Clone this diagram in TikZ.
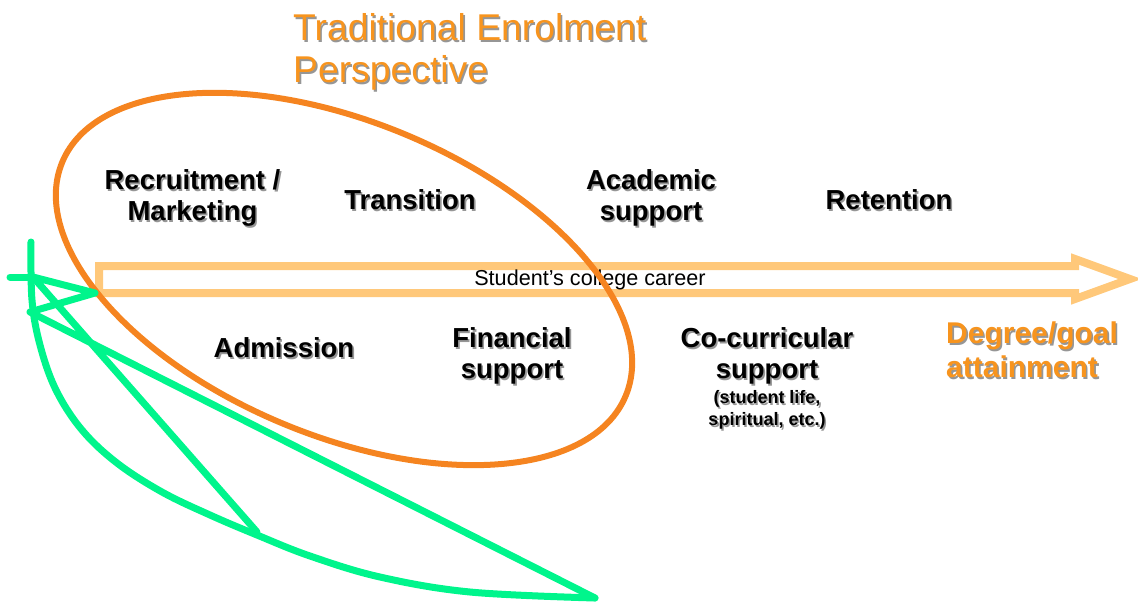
\documentclass[tikz,border=0pt]{standalone}
\usepackage{fontspec}
\setmainfont{Liberation Sans}
\usetikzlibrary{calc}

\definecolor{careerarrow}{RGB}{255,200,122}
\definecolor{ringorange}{RGB}{245,132,32}
\definecolor{titleorange}{RGB}{247,148,30}
\definecolor{scribble}{RGB}{0,245,140}
\definecolor{shadowgray}{RGB}{150,150,150}

% text with a soft drop shadow: name, position, style, text
\newcommand\shadednode[4]{%
  \node[#3, text=shadowgray, xshift=1.6pt, yshift=-1.6pt] at (#2) {#4};
  \node[#3] (#1) at (#2) {#4};}

\tikzset{
  stage/.style={font=\bfseries\fontsize{27.5}{31}\selectfont, align=center, inner sep=0pt, text=black},
  stagenote/.style={font=\bfseries\fontsize{18}{22.5}\selectfont, align=center, inner sep=0pt, text=black},
  goal/.style={font=\bfseries\fontsize{30}{34}\selectfont, align=left, anchor=west, inner sep=0pt, text=titleorange},
  heading/.style={font=\fontsize{37.3}{42}\selectfont, align=left, anchor=west, inner sep=0pt, text=titleorange},
  career/.style={draw=careerarrow, line width=8pt, miter limit=10},
  ring/.style={draw=ringorange, line width=6pt},
  pen/.style={draw=scribble, line width=7pt, line cap=round, line join=round},
}

\begin{document}
\begin{tikzpicture}[x=1pt, y=-1pt]
\useasboundingbox (0,0) rectangle (1138,603);

% hollow arrow of the college career
\coordinate (a1) at (99,266);
\coordinate (a2) at (1075,266);
\coordinate (a3) at (1075,259);
\coordinate (tip) at (1130,279);
\coordinate (a5) at (1075,299);
\coordinate (a6) at (1075,293);
\coordinate (a7) at (99,293);
\draw[career] (a1) -- (a2) -- (a3) -- (tip) -- (a5) -- (a6) -- (a7) -- cycle;
\node[font=\fontsize{21.6}{24}\selectfont, inner sep=0pt] (career) at (590,280) {Student’s college career};

% stages above and below the arrow
\shadednode{recruit}{192.5,198}{stage}{Recruitment /\\Marketing}
\shadednode{transition}{410,200}{stage}{Transition}
\shadednode{academic}{651,198}{stage}{Academic\\support}
\shadednode{retention}{889,200}{stage}{Retention}
\shadednode{admission}{284,348}{stage}{Admission}
\shadednode{financial}{512,356}{stage}{Financial\\support}
\shadednode{cocurr}{767,356}{stage}{Co-curricular\\support}
\shadednode{cocurrnote}{767,410}{stagenote}{(student life,\\spiritual, etc.)}
\shadednode{goal}{946,350}{goal}{Degree/goal\\attainment}

% title
\shadednode{title}{293,52}{heading}{Traditional Enrolment\\Perspective}

% ring round the traditional stages
\coordinate (ringc) at (344,279);
\draw[ring, rotate around={-22.5:(ringc)}] (ringc) ellipse [x radius=305, y radius=157];

% green pen strokes
\coordinate (g0) at (10,277);
\coordinate (g1) at (33,277);
\coordinate (gtop) at (31,242);
\coordinate (gend) at (595,598);
\coordinate (gmid) at (30,312);
\coordinate (gtip) at (95,293);
\coordinate (gfoot) at (257,532);
\draw[pen] (g0) -- (g1);
\draw[pen] plot[smooth, tension=0.6] coordinates {(31,242) (32,300) (40,345) (56,390) (82,430) (117,463) (162,492) (210,515) (257,535) (310,556) (380,577) (470,592) (595,598)};
\draw[pen] (gend) -- (gmid) -- (gtip) -- (g1) -- (gfoot);
\end{tikzpicture}
\end{document}
